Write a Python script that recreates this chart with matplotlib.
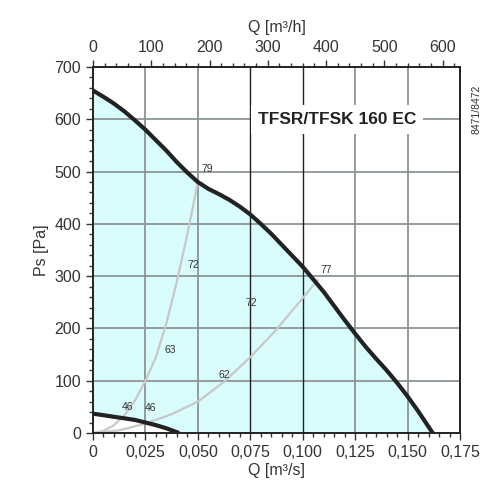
import matplotlib
matplotlib.use("Agg")
import matplotlib.pyplot as plt
import numpy as np
from matplotlib.ticker import MultipleLocator

plt.rcParams['font.family'] = ['Liberation Sans', 'DejaVu Sans']

main_q = [0, 0.005, 0.01, 0.015, 0.02, 0.025, 0.03, 0.035, 0.04, 0.045, 0.05, 0.055, 0.06, 0.065, 0.07,
          0.075, 0.08, 0.085, 0.09, 0.095, 0.10, 0.105, 0.11, 0.115, 0.12, 0.125, 0.13, 0.135, 0.14,
          0.145, 0.15, 0.155, 0.158, 0.162]
main_p = [655, 643, 630, 615, 598, 580, 560, 540, 518, 498, 480, 467, 457, 446, 433,
          418, 400, 381, 360, 339, 318, 294, 270, 243, 216, 190, 165, 142, 120,
          96, 70, 42, 24, 0]
low_q = [0, 0.01, 0.02, 0.025, 0.03, 0.035, 0.041]
low_p = [37, 31, 25, 20, 15, 9, 0]
sys1_q = [0, 0.005, 0.01, 0.015, 0.02, 0.025, 0.03, 0.035, 0.04, 0.045, 0.05]
sys1_p = [0, 4, 15, 34, 62, 100, 145, 210, 290, 380, 480]
sys2_q = [0, 0.0125, 0.025, 0.0375, 0.05, 0.0625, 0.075, 0.0875, 0.1, 0.107]
sys2_p = [0, 5, 18, 36, 60, 98, 145, 198, 258, 292]
labels = [("79", 0.0545, 505), ("72", 0.048, 322), ("72", 0.0755, 248), ("77", 0.111, 312),
          ("63", 0.037, 158), ("62", 0.0625, 110), ("46", 0.0165, 50), ("46", 0.0275, 47)]

fig = plt.figure(figsize=(5.03, 4.92), dpi=100)
ax = fig.add_axes([93/503, 1-433/492, (460-93)/503, (433-67)/492])
ax.set_xlim(0, 0.175)
ax.set_ylim(0, 700)

qm = np.linspace(0, 0.162, 400)
pm = np.interp(qm, main_q, main_p)
pl = np.interp(qm, low_q, low_p, right=0)
ax.fill_between(qm, pl, pm, color="#d9fcfc", lw=0, zorder=0)

for y in range(100, 700, 100):
    ax.axhline(y, color="#8c9494", lw=1.3, zorder=1)
for x in [0.025, 0.05, 0.125, 0.15]:
    ax.axvline(x, color="#8c9494", lw=1.3, zorder=1)
for x in [0.075, 0.1]:
    ax.axvline(x, color="#222222", lw=1.0, zorder=1)

ax.plot(sys1_q, sys1_p, color="#c8c8c8", lw=1.6, zorder=2)
ax.plot(sys2_q, sys2_p, color="#c8c8c8", lw=1.6, zorder=2)
ax.plot(main_q, main_p, color="#222222", lw=3, zorder=3, solid_capstyle="butt")
ax.plot(low_q, low_p, color="#222222", lw=3, zorder=3, solid_capstyle="butt")
for t, x, y in labels:
    ax.text(x, y, t, fontsize=7.5, color="#333333", ha="center", va="center", zorder=4)

ax.text(0.1165, 600, "TFSR/TFSK 160 EC", fontsize=12.5, fontweight="bold", color="#222222",
        ha="center", va="center", zorder=5,
        bbox=dict(facecolor="white", edgecolor="none", pad=5))
fig.text(476/503, 1-109/492, "8471/8472", rotation=90, fontsize=7.5, color="#333333", ha="center", va="center")

ax.xaxis.set_major_locator(MultipleLocator(0.025))
ax.xaxis.set_minor_locator(MultipleLocator(0.005))
ax.yaxis.set_major_locator(MultipleLocator(100))
ax.yaxis.set_minor_locator(MultipleLocator(20))
ax.xaxis.set_major_formatter(plt.FuncFormatter(lambda v, p: ("%.3f" % v).replace(".", ",") if v > 0 else "0"))
ax.tick_params(which="major", length=5, width=1, labelsize=11.5, color="#333333", labelcolor="#333333")
ax.tick_params(which="minor", length=3, width=1, color="#333333")
for s in ax.spines.values():
    s.set_color("#222222"); s.set_linewidth(1.2)
ax.set_xlabel("Q [m³/s]", fontsize=11.5, color="#333333", labelpad=2)
ax.set_ylabel("Ps [Pa]", fontsize=11.5, color="#333333", labelpad=4)

top = ax.twiny()
top.set_xlim(0, 0.175 * 3600)
top.xaxis.set_major_locator(MultipleLocator(100))
top.xaxis.set_minor_locator(MultipleLocator(20))
top.tick_params(which="major", length=5, width=1, labelsize=11.5, color="#333333", labelcolor="#333333")
top.tick_params(which="minor", length=3, width=1, color="#333333")
top.set_xlabel("Q [m³/h]", fontsize=11.5, color="#333333", labelpad=6)
for s in top.spines.values():
    s.set_color("#222222"); s.set_linewidth(1.2)

fig.savefig("out.png", dpi=100)
